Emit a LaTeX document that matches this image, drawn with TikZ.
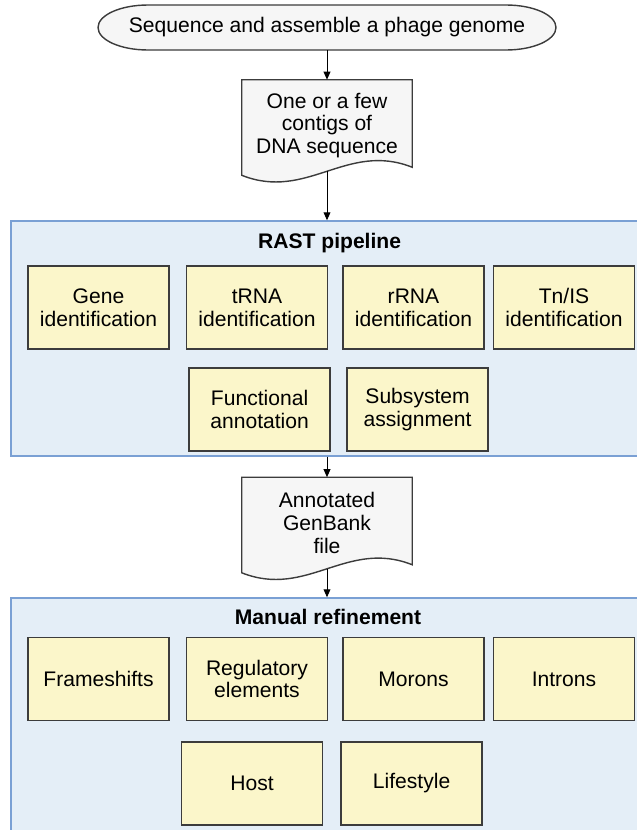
\documentclass[tikz,border=0pt]{standalone}
\usepackage{fontspec}
\setmainfont{Liberation Sans}
\usepackage{tikz}
\usetikzlibrary{arrows.meta,positioning,calc,backgrounds}
\definecolor{panelfill}{HTML}{E4EEF7}
\definecolor{panelline}{HTML}{7AA0D4}
\definecolor{stepfill}{HTML}{FBF6CA}
\definecolor{stepline}{HTML}{3C3C3C}
\definecolor{paperfill}{HTML}{F6F6F6}
\tikzset{
  >={Triangle[length=2mm,width=1.7mm]},
  txt/.style={font=\fontsize{15}{16.2}\selectfont,align=center},
  % flussdiagramm
  flow/.style={->,draw=black,line width=0.7pt},
  panel/.style={rectangle,draw=panelline,fill=panelfill,line width=1pt},
  heading/.style={txt,font=\fontsize{15}{16.2}\selectfont\bfseries},
  task/.style={txt,rectangle,draw=stepline,fill=stepfill,line width=1.2pt,
               minimum width=3.525cm,minimum height=2.075cm,inner sep=2pt},
  paper/.style={txt,rectangle,minimum width=4.25cm,minimum height=2.275cm,
                inner sep=2pt},
  outline/.style={draw=stepline,fill=paperfill,line width=1pt},
}

\begin{document}
\begin{tikzpicture}
\useasboundingbox (0,0) rectangle (15.9,-20.75);
  % start
  \node[txt] (start) at (8.175,-0.6875) {Sequence and assemble a phage genome};
  \path (start.center) ++(-5.725,0.5625) coordinate (tl) ++(11.45,0) coordinate (tr);
  \path (start.center) ++(-5.725,-0.5625) coordinate (bl) ++(11.45,0) coordinate (br);
  \begin{scope}[on background layer]
    \draw[outline] ($(tl)+(1.25,0)$) -- ($(tr)+(-1.25,0)$)
      arc[start angle=90,end angle=-90,x radius=1.25,y radius=0.5625]
      -- ($(bl)+(1.25,0)$)
      arc[start angle=270,end angle=90,x radius=1.25,y radius=0.5625] -- cycle;
  \end{scope}
  % contigs
  \node[paper] (contigs) at (8.175,-3.1375) {One or a few\\contigs of\\DNA sequence};
  % RAST
  \node[panel,minimum width=16.225cm,minimum height=5.875cm] (rast) at (8.39,-8.4625) {};
  \node[heading] (rasttitle) at (8.24,-6.075) {RAST pipeline};
  \node[task] (gene) at (2.4625,-7.6875) {Gene\\identification};
  \node[task] (trna) at (6.425,-7.6875) {tRNA\\identification};
  \node[task] (rrna) at (10.3375,-7.6875) {rRNA\\identification};
  \node[task] (tnis) at (14.1,-7.6875) {Tn/IS\\identification};
  \node[task] (func) at (6.49,-10.2375) {Functional\\annotation};
  \node[task] (subsys) at (10.44,-10.2375) {Subsystem\\assignment};
  % genbank
  \node[paper] (gbk) at (8.175,-13.075) {Annotated\\GenBank\\file};
  % manual
  \node[panel,minimum width=16.225cm,minimum height=6.55cm] (manual) at (8.39,-18.225) {};
  \node[heading] (mantitle) at (8.2,-15.425) {Manual refinement};
  \node[task] (frame) at (2.4625,-16.975) {Frameshifts};
  \node[task] (regul) at (6.425,-16.975) {Regulatory\\elements};
  \node[task] (moron) at (10.3375,-16.975) {Morons};
  \node[task] (intron) at (14.1,-16.975) {Introns};
  \node[task] (host) at (6.3,-19.5875) {Host};
  \node[task] (life) at (10.29,-19.5875) {Lifestyle};
  % document shapes
  \begin{scope}[on background layer]
    \foreach \d in {contigs,gbk}
      \draw[outline] (\d.north west) -- (\d.north east) -- ($(\d.south east)+(0,0.1)$)
        .. controls ($(\d.south)+(0.5,0.75)$) and ($(\d.south)+(-0.5,-0.75)$)
        .. ($(\d.south west)+(0,-0.1)$) -- cycle;
  \end{scope}
  % arrows
  \draw[flow] (start.center |- bl) -- (contigs.north);
  \draw[flow] (contigs.south) -- (contigs.south |- rast.north);
  \draw[flow] (contigs.south |- rast.south) -- (gbk.north);
  \draw[flow] (gbk.south) -- (gbk.south |- manual.north);
\end{tikzpicture}
\end{document}
